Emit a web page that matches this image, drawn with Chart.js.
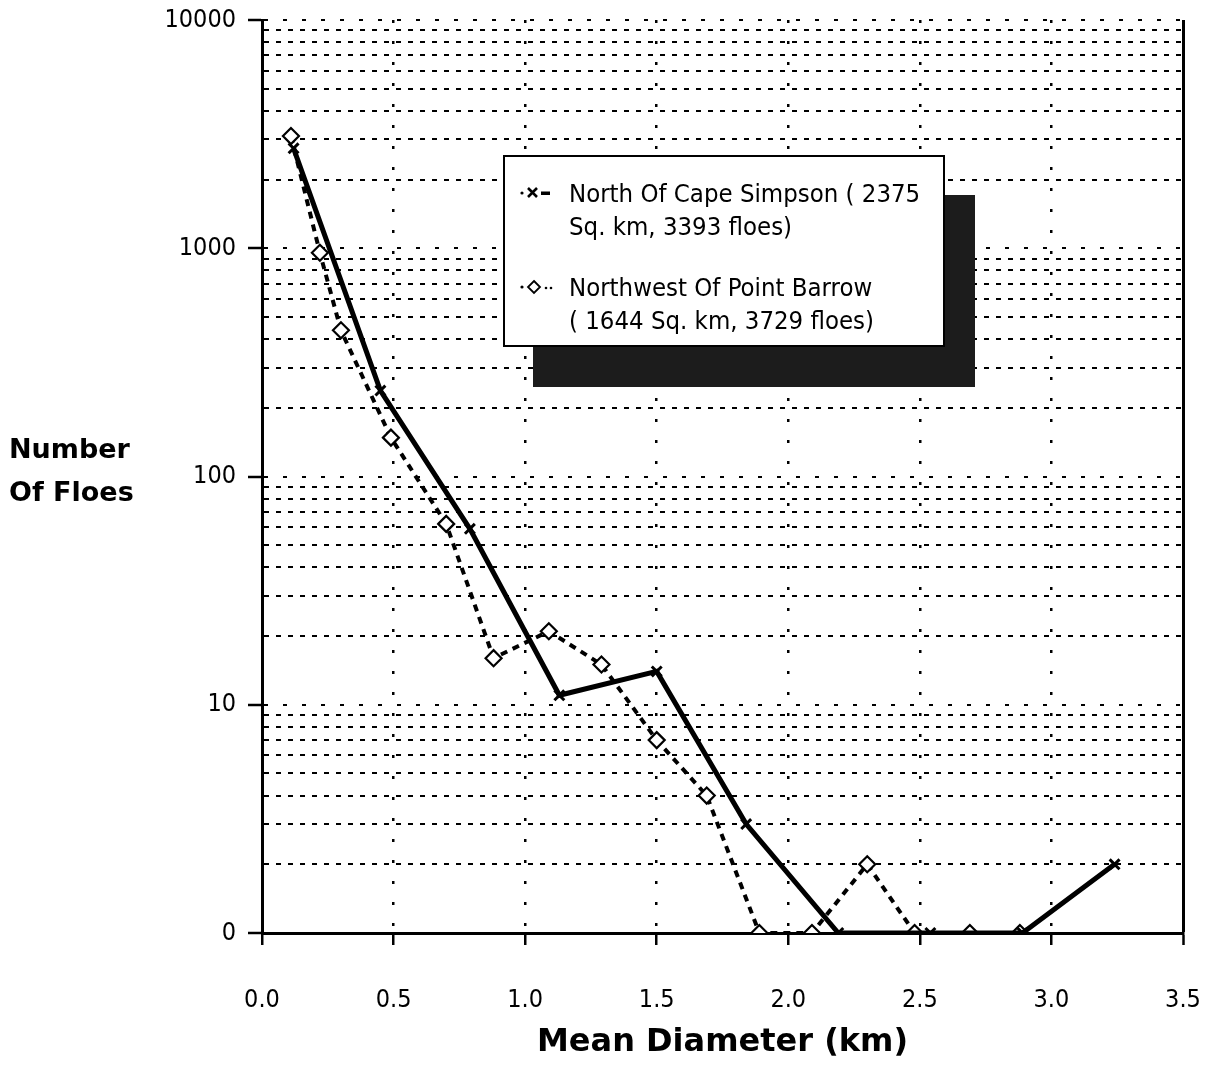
<!DOCTYPE html>
<html>
<head>
<meta charset="utf-8">
<title>Number Of Floes vs Mean Diameter</title>
<script src="https://cdn.jsdelivr.net/npm/chart.js@4.4.1/dist/chart.umd.min.js"></script>
<style>
  html, body { margin: 0; padding: 0; background: #fff; }
  #wrap { position: relative; width: 1215px; height: 1068px; overflow: hidden; }
  #floeChart { position: absolute; left: 0; top: 0; }
  .y-title {
    position: absolute; left: 9px; top: 427px;
    font: bold 27px 'DejaVu Sans', sans-serif;
    line-height: 43px; color: #000;
  }
  .legend {
    position: absolute; left: 503px; top: 155px; width: 442px; height: 192px;
    box-sizing: border-box; border: 2px solid #000; background: #fff;
    box-shadow: 30px 40px 0 #1c1c1c;
    font: 25.5px 'DejaVu Sans Condensed', 'DejaVu Sans', sans-serif; color: #000;
  }
  .legend .entry { position: absolute; left: 14px; }
  .legend .entry svg { position: absolute; left: 0; top: 4px; }
  .legend .entry div { position: absolute; left: 50px; width: 380px; line-height: 33px; white-space: nowrap; }
</style>
</head>
<body>
<div id="wrap">
  <canvas id="floeChart" width="1215" height="1068"></canvas>
  <div class="y-title">Number<br>Of Floes</div>
  <div class="legend">
    <div class="entry" style="top:20px">
      <svg width="40" height="24" viewBox="0 0 40 24">
        <circle cx="3" cy="12" r="1.6" fill="#000"/>
        <path d="M9 7 L18 16 M18 7 L9 16" stroke="#000" stroke-width="2.6"/>
        <rect x="22" y="10.5" width="9" height="3.5" fill="#000"/>
      </svg>
      <div>North Of Cape Simpson ( 2375<br>Sq. km, 3393 floes)</div>
    </div>
    <div class="entry" style="top:114px">
      <svg width="40" height="24" viewBox="0 0 40 24">
        <circle cx="3" cy="12" r="1.6" fill="#000"/>
        <path d="M15 6 L21 12 L15 18 L9 12 Z" stroke="#000" stroke-width="1.8" fill="#fff"/>
        <circle cx="27" cy="13" r="1.3" fill="#000"/>
        <circle cx="32" cy="13" r="1.3" fill="#000"/>
      </svg>
      <div>Northwest Of Point Barrow<br>( 1644 Sq. km, 3729 floes)</div>
    </div>
  </div>
</div>
<script>
  // values; bottom of the log axis (1) is labelled "0"
  const capeDiameter = [0.12, 0.45, 0.79, 1.13, 1.50, 1.84, 2.19, 2.54, 2.89, 3.24];
  const capeFloes = [2740, 238, 59, 11, 14, 3, 1, 1, 1, 2];

  const barrowDiameter = [0.11, 0.22, 0.30, 0.49, 0.70, 0.88, 1.09, 1.29, 1.50, 1.69, 1.89, 2.09, 2.30, 2.48, 2.69, 2.88];
  const barrowFloes = [3100, 955, 437, 148, 62, 16, 21, 15, 7, 4, 1, 1, 2, 1, 1, 1];

  const xTicks = [0, 0.5, 1.0, 1.5, 2.0, 2.5, 3.0, 3.5];
  const yTicks = [];
  for (const d of [1, 10, 100, 1000]) {
    for (let k = 1; k < 10; k++) yTicks.push(k * d);
  }
  yTicks.push(10000);
  const yMajorLabels = { 1: '0', 10: '10', 100: '100', 1000: '1000', 10000: '10000' };

  const tickFont = { family: "'DejaVu Sans Condensed', 'DejaVu Sans', sans-serif", size: 25 };

  function pairs(xs, ys) {
    return xs.map((x, i) => ({ x: x, y: ys[i] }));
  }

  function isMajor(v) {
    return yMajorLabels[v] !== undefined;
  }

  new Chart(document.getElementById('floeChart'), {
    type: 'line',
    data: {
      datasets: [
        {
          label: 'North Of Cape Simpson (2375 Sq. km, 3393 floes)',
          data: pairs(capeDiameter, capeFloes),
          borderColor: '#000',
          borderWidth: 5,
          pointStyle: 'crossRot',
          pointRadius: 7,
          pointBorderWidth: 3,
          pointBorderColor: '#000',
          tension: 0,
        },
        {
          label: 'Northwest Of Point Barrow (1644 Sq. km, 3729 floes)',
          data: pairs(barrowDiameter, barrowFloes),
          borderColor: '#000',
          borderWidth: 4,
          borderDash: [7, 6],
          pointStyle: 'rectRot',
          pointRadius: 8,
          pointBorderWidth: 2.2,
          pointBorderColor: '#000',
          pointBackgroundColor: '#fff',
          tension: 0,
        },
      ],
    },
    options: {
      responsive: false,
      animation: false,
      layout: { padding: { left: 0, right: 32, top: 20, bottom: 0 } },
      plugins: {
        legend: { display: false },
        tooltip: { enabled: false },
      },
      scales: {
        x: {
          type: 'linear',
          min: 0,
          max: 3.5,
          afterBuildTicks: (scale) => { scale.ticks = xTicks.map((v) => ({ value: v })); },
          afterFit: (scale) => {
            scale.height = 135;
            scale.paddingLeft = 0;
            scale.paddingRight = 0;
          },
          ticks: {
            color: '#000',
            font: tickFont,
            padding: 40,
            maxRotation: 0,
            callback: (v) => Number(v).toFixed(1),
          },
          grid: {
            color: '#000',
            lineWidth: (c) => (c.tick && c.tick.value === 3.5 ? 3 : 2.5),
            tickLength: 12,
            tickWidth: 2.5,
            tickColor: '#000',
          },
          border: {
            color: '#000',
            width: 3,
            dash: (c) => (c.tick && c.tick.value === 3.5 ? [] : [3, 18]),
          },
          title: {
            display: true,
            text: 'Mean Diameter (km)',
            color: '#000',
            font: { family: "'DejaVu Sans', sans-serif", size: 32, weight: 'bold' },
            padding: { top: 0, bottom: 6 },
          },
        },
        y: {
          type: 'logarithmic',
          min: 1,
          max: 10000,
          afterBuildTicks: (scale) => { scale.ticks = yTicks.map((v) => ({ value: v, major: isMajor(v) })); },
          afterFit: (scale) => {
            scale.width = 262;
            scale.paddingTop = 0;
            scale.paddingBottom = 0;
          },
          ticks: {
            color: '#000',
            font: tickFont,
            padding: 12,
            autoSkip: false,
            callback: (v) => (isMajor(v) ? yMajorLabels[v] : ''),
          },
          grid: {
            color: (c) => (c.tick && c.tick.value === 1 ? 'rgba(0,0,0,0)' : '#000'),
            lineWidth: 2,
            tickLength: 14,
            tickWidth: 2.5,
            tickColor: (c) => (c.tick && isMajor(c.tick.value) ? '#000' : 'rgba(0,0,0,0)'),
          },
          border: {
            color: '#000',
            width: 3,
            dash: (c) => (c.tick && isMajor(c.tick.value) ? [4, 15] : [5, 7]),
          },
        },
      },
    },
  });
</script>
</body>
</html>
